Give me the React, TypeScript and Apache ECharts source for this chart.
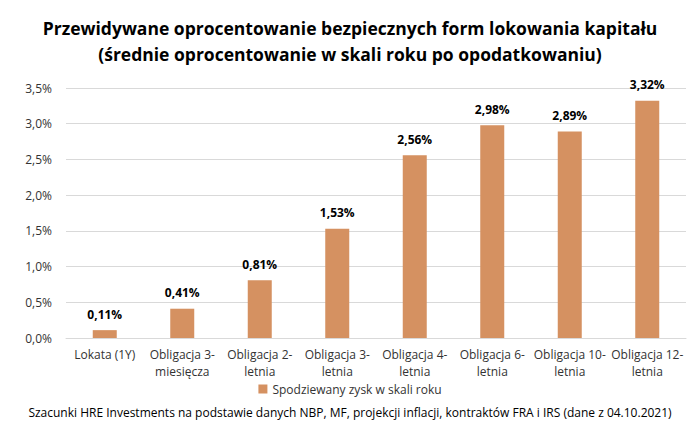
import React, { useEffect, useRef } from "react";
import * as echarts from "echarts";

const categories = [
  "Lokata (1Y)",
  "Obligacja 3-\nmiesięcza",
  "Obligacja 2-\nletnia",
  "Obligacja 3-\nletnia",
  "Obligacja 4-\nletnia",
  "Obligacja 6-\nletnia",
  "Obligacja 10-\nletnia",
  "Obligacja 12-\nletnia",
];
const values = [0.11, 0.41, 0.81, 1.53, 2.56, 2.98, 2.89, 3.32];
const seriesName = "Spodziewany zysk w skali roku";
const titleText =
  "Przewidywane oprocentowanie bezpiecznych form lokowania kapitału\n(średnie oprocentowanie w skali roku po opodatkowaniu)";
const footerText =
  "Szacunki HRE Investments na podstawie danych NBP, MF, projekcji inflacji, kontraktów FRA i IRS (dane z 04.10.2021)";

const FONT = "'Open Sans', sans-serif";
const fmt = (v: number, d: number) => v.toFixed(d).replace(".", ",") + "%";

export default function App() {
  const ref = useRef<HTMLDivElement>(null);
  useEffect(() => {
    const chart = echarts.init(ref.current!, null, { renderer: "svg" });
    chart.setOption({
      animation: false,
      backgroundColor: "#ffffff",
      title: {
        text: titleText,
        left: "center",
        top: 10,
        textStyle: {
          fontFamily: FONT,
          fontSize: 17.5,
          fontWeight: "bold",
          color: "#000",
          lineHeight: 26,
        },
      },
      legend: {
        data: [seriesName],
        top: 378,
        left: "center",
        itemWidth: 9,
        itemHeight: 9,
        itemGap: 4,
        icon: "rect",
        textStyle: { fontFamily: FONT, fontSize: 12, color: "#333" },
      },
      graphic: [
        {
          type: "text",
          left: "center",
          top: 406,
          style: {
            text: footerText,
            fontFamily: FONT,
            fontSize: 12,
            fill: "#000",
          },
        },
      ],
      grid: { left: 66, right: 14, top: 88, bottom: 104 },
      xAxis: {
        type: "category",
        data: categories,
        axisTick: { show: false },
        axisLine: { lineStyle: { color: "#d9d9d9" } },
        axisLabel: {
          fontFamily: FONT,
          fontSize: 12,
          color: "#333",
          interval: 0,
          lineHeight: 17,
          margin: 8,
        },
      },
      yAxis: {
        type: "value",
        min: 0,
        max: 3.5,
        interval: 0.5,
        axisLine: { show: false },
        axisTick: { show: false },
        splitLine: { lineStyle: { color: "#d9d9d9" } },
        axisLabel: {
          fontFamily: FONT,
          fontSize: 12,
          color: "#333",
          margin: 14,
          formatter: (v: number) => fmt(v, 1),
        },
      },
      series: [
        {
          name: seriesName,
          type: "bar",
          data: values,
          barWidth: 24,
          itemStyle: { color: "#D59161" },
          label: {
            show: true,
            position: "top",
            distance: 10,
            fontFamily: FONT,
            fontSize: 12,
            fontWeight: "bold",
            color: "#000",
            formatter: (p: any) => fmt(p.value, 2),
          },
        },
      ],
    });
    return () => chart.dispose();
  }, []);
  return <div ref={ref} style={{ width: 700, height: 442, margin: -8 }} />;
}
